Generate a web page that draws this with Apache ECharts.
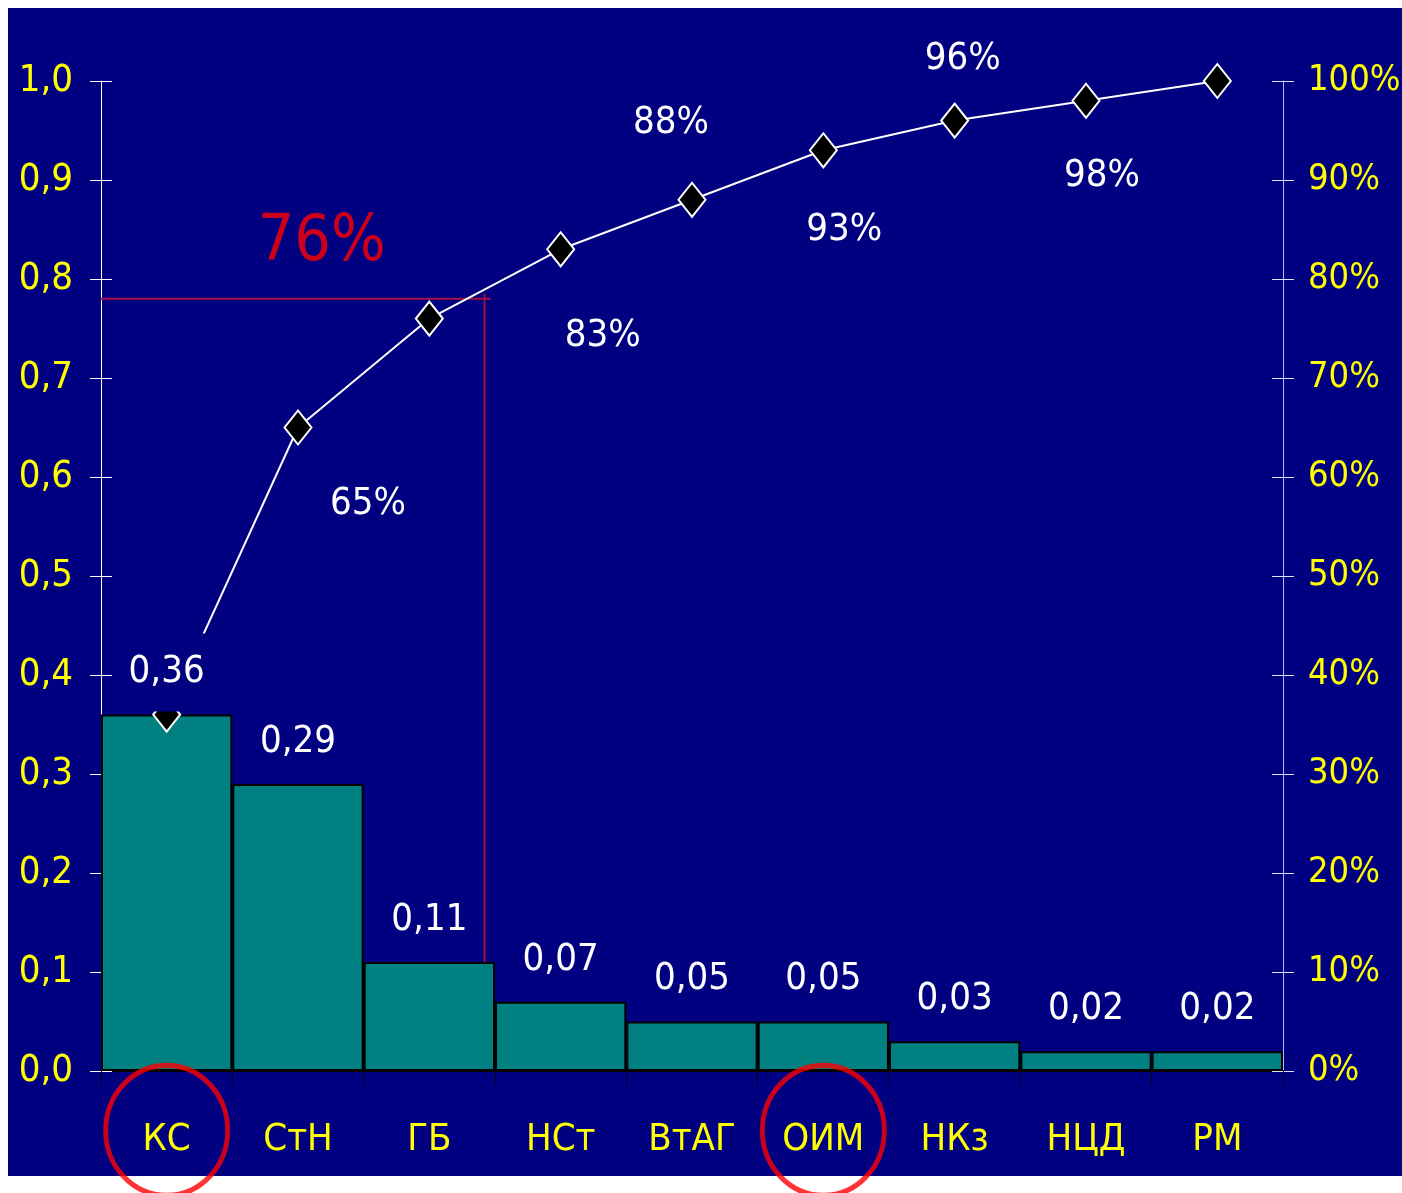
<!DOCTYPE html>
<html>
<head>
<meta charset="utf-8">
<script src="https://cdn.jsdelivr.net/npm/echarts@6/dist/echarts.min.js"></script>
<style>
  html, body { margin: 0; padding: 0; background: #fff; }
  #panel { position: absolute; left: 8px; top: 8px; width: 1394px; height: 1168px; background: #000080; }
  #chart { position: absolute; left: 0; top: 0; width: 1402px; height: 1193px; }
</style>
</head>
<body>
<div id="panel"></div>
<div id="chart"></div>
<script>
// categories (causes) and their shares
const categories = ['КС', 'СтН', 'ГБ', 'НСт', 'ВтАГ', 'ОИМ', 'НКз', 'НЦД', 'РМ']
const shares = [0.36, 0.29, 0.11, 0.07, 0.05, 0.05, 0.03, 0.02, 0.02]
// cumulative share
const cumulative = [0.36, 0.65, 0.76, 0.83, 0.88, 0.93, 0.96, 0.98, 1.00]
// circled categories
const highlighted = ['КС', 'ОИМ']
// cut-off annotation
const cutoffLevel = 0.78
const cutoffText = '76%'

const FONT = "'Liberation Sans Narrow', 'Arial Narrow', 'DejaVu Sans Condensed', sans-serif"
const NAVY = '#000080'
const YELLOW = '#ffff00'
const CUT_RED = '#a01040'
const FS = 38

// where the percent labels sit relative to their point
const pctOffsets = {
  1: [70, 77],
  3: [42, 87],
  4: [-21, -77],
  5: [21, 80],
  6: [8, -61],
  7: [16, 75]
}

const comma = v => v.toFixed(2).replace('.', ',')

const lineData = cumulative.map((v, i) => {
  const off = pctOffsets[i]
  return {
    value: v,
    label: off ? {
      show: true,
      position: 'inside',
      offset: off,
      formatter: Math.round(v * 100) + '%'
    } : { show: false }
  }
})

const chart = echarts.init(document.getElementById('chart'))

const yBase = {
  type: 'value',
  min: 0,
  max: 1,
  interval: 0.1,
  splitLine: { show: false }
}

chart.setOption({
  backgroundColor: 'transparent',
  animation: false,
  textStyle: { fontFamily: FONT },
  grid: {
    left: 101,
    right: 119,
    top: 81,
    bottom: 122,
    containLabel: false,
    outerBoundsMode: 'none'
  },
  xAxis: [
    {
      type: 'category',
      data: categories,
      boundaryGap: true,
      axisLine: { onZero: false, lineStyle: { color: '#000000', width: 2 } },
      axisTick: { show: true, length: 14, lineStyle: { color: '#000020', width: 1 } },
      axisLabel: {
        color: YELLOW,
        fontFamily: FONT,
        fontSize: FS,
        margin: 50,
        interval: 0
      }
    },
    {
      // helper axis for the cut-off lines / annotation
      type: 'value',
      min: -0.5,
      max: categories.length - 0.5,
      show: false
    }
  ],
  yAxis: [
    Object.assign({}, yBase, {
      position: 'left',
      axisLine: { show: true, onZero: false, lineStyle: { color: '#ffffff', width: 1 } },
      axisTick: { show: true, length: 11, lineStyle: { color: '#ffffff' } },
      axisLabel: {
        color: YELLOW,
        fontFamily: FONT,
        fontSize: FS,
        margin: 28,
        formatter: v => v.toFixed(1).replace('.', ',')
      }
    }),
    Object.assign({}, yBase, {
      position: 'right',
      axisLine: { show: true, onZero: false, lineStyle: { color: '#b8b8e8', width: 1 } },
      axisTick: { show: true, length: 11, lineStyle: { color: '#e0e0ff' } },
      axisLabel: {
        color: YELLOW,
        fontFamily: FONT,
        fontSize: 36,
        margin: 25,
        formatter: v => Math.round(v * 100) + '%'
      }
    }),
    // inner halves of the crossing ticks
    Object.assign({}, yBase, {
      position: 'left',
      offset: 0,
      axisLine: { show: false, onZero: false },
      axisTick: { show: true, inside: true, length: 11, lineStyle: { color: '#ffffff' } },
      axisLabel: { show: false }
    }),
    Object.assign({}, yBase, {
      position: 'right',
      offset: 0,
      axisLine: { show: false, onZero: false },
      axisTick: { show: true, inside: true, length: 11, lineStyle: { color: '#e0e0ff' } },
      axisLabel: { show: false }
    })
  ],
  series: [
    {
      name: 'shares',
      type: 'bar',
      z: 2,
      barCategoryGap: 0,
      barGap: '-100%',
      data: shares,
      itemStyle: { color: '#008080', borderColor: '#000000', borderWidth: 2 }
    },
    {
      name: 'cumulative',
      type: 'line',
      yAxisIndex: 1,
      z: 3,
      data: lineData,
      symbol: 'diamond',
      symbolSize: [27, 34],
      lineStyle: { color: '#ffffff', width: 2 },
      itemStyle: { color: '#000000', borderColor: '#ffffff', borderWidth: 2 },
      label: {
        color: '#ffffff',
        fontFamily: FONT,
        fontSize: FS
      }
    },
    {
      // value labels, boxed in the background colour
      name: 'labels',
      type: 'bar',
      z: 4,
      barCategoryGap: 0,
      barGap: '-100%',
      data: shares,
      itemStyle: { color: 'transparent', borderWidth: 0 },
      label: {
        show: true,
        position: 'top',
        distance: 3,
        color: '#ffffff',
        fontFamily: FONT,
        fontSize: FS,
        lineHeight: 40,
        backgroundColor: NAVY,
        padding: [19, 5, 19, 5],
        formatter: p => comma(p.value)
      }
    },
    {
      name: 'cutoff',
      type: 'line',
      xAxisIndex: 1,
      z: 1,
      symbol: 'none',
      connectNulls: false,
      lineStyle: { color: CUT_RED, width: 2 },
      data: [
        [-0.5, cutoffLevel], [2.47, cutoffLevel], '-',
        [2.42, cutoffLevel + 0.005], [2.42, shares[2] - 0.005]
      ]
    },
    {
      name: 'cutoffText',
      type: 'scatter',
      xAxisIndex: 1,
      symbolSize: 0,
      data: [[1.18, 0.836]],
      label: {
        show: true,
        position: 'inside',
        color: '#ff0000',
        fontFamily: FONT,
        fontSize: 64,
        formatter: cutoffText
      }
    },
    {
      name: 'circles',
      type: 'scatter',
      clip: false,
      z: 5,
      symbol: 'circle',
      symbolSize: [122, 130],
      data: highlighted.map(c => [c, -0.06]),
      itemStyle: { color: 'transparent', borderColor: '#ff0000', borderWidth: 5 }
    }
  ]
})
</script>
</body>
</html>
